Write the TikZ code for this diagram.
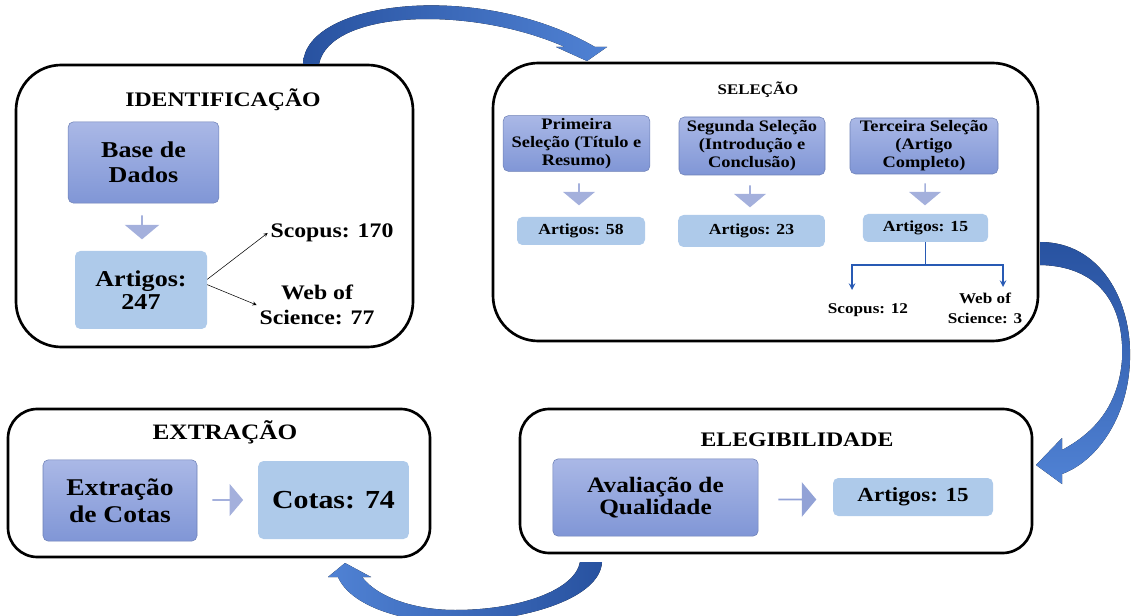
\documentclass[tikz,border=0pt]{standalone}
\usepackage{fontspec}
\setmainfont{Liberation Serif}[FakeStretch=1.15]
\usetikzlibrary{shapes.arrows}

\definecolor{azulescuro}{RGB}{128,150,214}
\definecolor{azulclaro}{RGB}{170,184,230}
\definecolor{caixaclara}{RGB}{174,202,234}
\definecolor{setinha}{RGB}{164,176,220}
\definecolor{setinha2}{RGB}{146,162,214}
\definecolor{setagrande}{RGB}{40,82,160}
\definecolor{setagrande2}{RGB}{80,130,212}
\definecolor{ramo}{RGB}{40,90,180}

\newcommand{\tam}[2]{\fontsize{#1}{#2}\selectfont\bfseries}

\begin{document}
\begin{tikzpicture}[x=0.75pt, y=-0.75pt, inner sep=2pt,
  grande/.style={draw, line width=2pt, rounded corners=34pt},
  media/.style={draw, line width=2pt, rounded corners=22pt},
  escura/.style={rounded corners=4pt, draw=azulescuro!85!black, top color=azulclaro, bottom color=azulescuro, align=center},
  clara/.style={rounded corners=4pt, fill=caixaclara, align=center},
  baixo/.style={single arrow, fill=setinha, rotate=-90, inner sep=0pt, single arrow tip angle=100, single arrow head extend=4pt},
  lado/.style={single arrow, fill=setinha, inner sep=0pt, single arrow tip angle=100, single arrow head extend=4pt},
  >=stealth]

\useasboundingbox (0,0) rectangle (1131,616);
\clip (0,0) rectangle (1131,616);

% Caixas grandes
\node[grande, minimum width=297.75pt, minimum height=211.5pt] (ident) at (214.5,206) {};
\node[grande, minimum width=408.75pt, minimum height=208.5pt] (selec) at (765.5,202) {};
\node[media, minimum width=316.5pt, minimum height=111pt] (extr) at (219,483) {};
\node[media, minimum width=384pt, minimum height=108pt] (eleg) at (776,481) {};

% Titulos
\node[font=\tam{15.5}{17}] (tident) at (223,100) {IDENTIFICAÇÃO};
\node[font=\tam{11}{12}] (tselec) at (758,90) {SELEÇÃO};
\node[font=\tam{16.5}{18}] (textr) at (225,432) {EXTRAÇÃO};
\node[font=\tam{15.5}{17}] (teleg) at (797,440) {ELEGIBILIDADE};

% Identificacao
\node[escura, font=\tam{17}{18.75}, minimum width=113pt, minimum height=61pt] (base) at (143.5,162.5) {Base de\\Dados};
\node[baixo, minimum height=18pt, minimum width=26pt] (sb) at (142,227) {};
\node[clara, font=\tam{17}{17.5}, minimum width=99pt, minimum height=58.5pt] (a247) at (141,290) {Artigos:\\247};
\node[font=\tam{15.5}{17}] (sco170) at (332,233) {Scopus: 170};
\node[font=\tam{15.5}{18.75}, align=center] (wos77) at (317,305) {Web of\\Science: 77};

% Selecao
\node[escura, font=\tam{12}{13.5}, minimum width=110pt, minimum height=40pt] (prim) at (576.5,143.5) {Primeira\\Seleção (Título e\\Resumo)};
\node[escura, font=\tam{12}{13.5}, minimum width=109.5pt, minimum height=43.5pt] (seg) at (752,146) {Segunda Seleção\\(Introdução e\\Conclusão)};
\node[escura, font=\tam{12}{13.5}, minimum width=111pt, minimum height=42pt] (terc) at (924,146) {Terceira Seleção\\(Artigo\\Completo)};
\node[baixo, minimum height=16.5pt, minimum width=24pt] (s1) at (579,194) {};
\node[baixo, minimum height=16.5pt, minimum width=24pt] (s2) at (750,196) {};
\node[baixo, minimum height=16.5pt, minimum width=24pt] (s3) at (925,194) {};
\node[clara, font=\tam{11.5}{13}, minimum width=96pt, minimum height=21pt] (a58) at (581,231) {Artigos: 58};
\node[clara, font=\tam{11.5}{13}, minimum width=110pt, minimum height=24pt] (a23) at (751.5,231) {Artigos: 23};
\node[clara, font=\tam{11.5}{13}, minimum width=94pt, minimum height=21pt] (a15) at (925.5,228) {Artigos: 15};
\node[font=\tam{11.2}{13}] (sco12) at (868,310) {Scopus: 12};
\node[font=\tam{11.2}{15}, align=center] (wos3) at (985,308) {Web of\\Science: 3};
\coordinate (bifurca) at (925.5,265);
\coordinate (fimsco) at (852,290);
\coordinate (fimwos) at (1003,287);

% Extracao
\node[escura, font=\tam{18}{20}, minimum width=115.5pt, minimum height=61pt] (cotasx) at (120,500.5) {Extração\\de Cotas};
\node[lado, minimum height=23pt, minimum width=24pt] (se) at (227.5,500) {};
\node[clara, font=\tam{19.5}{21}, minimum width=113pt, minimum height=58.5pt] (cotas) at (333.5,500) {Cotas: 74};

% Elegibilidade
\node[escura, font=\tam{16.5}{16.3}, minimum width=154pt, minimum height=58pt] (aval) at (655.5,497.5) {Avaliação de\\Qualidade};
\node[lado, fill=setinha2, minimum height=28.5pt, minimum width=26pt] (sl) at (797,499.5) {};
\node[clara, font=\tam{15}{17}, minimum width=120pt, minimum height=28.5pt] (a15b) at (913,497) {Artigos: 15};

% Setas
\draw[->, thin] ([yshift=8pt]a247.east) -- (sco170.west);
\draw[->, thin] ([yshift=4pt]a247.east) -- (wos77.west);
\draw[ramo, line width=1.2pt] (a15.south) -- (bifurca);
\draw[ramo, line width=1.2pt, ->] (bifurca) -| (fimsco);
\draw[ramo, line width=1.2pt, ->] (bifurca) -| (fimwos);

% Setas curvas
\fill[left color=setagrande, right color=setagrande2]
  (303,64) .. controls (305,0) and (480,-20) .. (595,47) -- (607,47) -- (587,61) -- (556,47) -- (565,47)
  .. controls (470,5) and (330,10) .. (319,64) -- cycle;
\fill[top color=setagrande, bottom color=setagrande2]
  (1040,242) .. controls (1100,242) and (1132,300) .. (1130,360) .. controls (1128,420) and (1095,462) .. (1062,474)
  -- (1062,484) -- (1036,465) -- (1062,438) -- (1062,450)
  .. controls (1090,435) and (1118,410) .. (1122,360) .. controls (1125,300) and (1095,266) .. (1040,265) -- cycle;
\fill[left color=setagrande2, right color=setagrande]
  (602,562) .. controls (600,600) and (520,622) .. (450,622) .. controls (400,622) and (350,605) .. (338,577)
  -- (328,577) -- (345,563) -- (371,577) -- (362,577)
  .. controls (380,600) and (420,610) .. (455,610) .. controls (520,610) and (575,590) .. (580,562) -- cycle;
\end{tikzpicture}
\end{document}
